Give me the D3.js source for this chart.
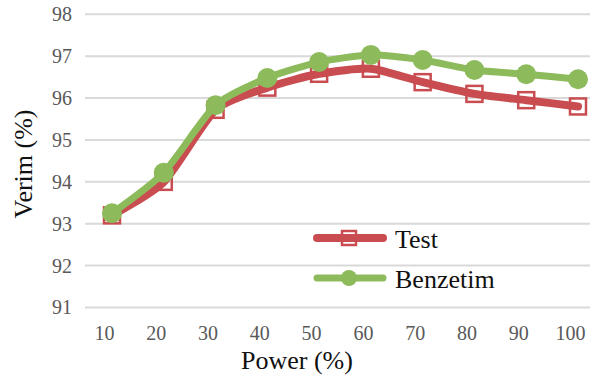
<!DOCTYPE html>
<html>
<head>
<meta charset="utf-8">
<script src="https://cdn.jsdelivr.net/npm/d3@7"></script>
<style>
  body { margin: 0; background: #fff; }
  svg text { font-family: 'Liberation Serif', serif !important; }
</style>
</head>
<body>
<div id="chart"></div>
<script>
var powers = [10, 20, 30, 40, 50, 60, 70, 80, 90, 100];
var testVals = [93.2, 94.0, 95.72, 96.25, 96.58, 96.7, 96.38, 96.1, 95.95, 95.8];
var simVals = [93.25, 94.22, 95.83, 96.48, 96.86, 97.03, 96.91, 96.67, 96.57, 96.45];
var yTicks = [91, 92, 93, 94, 95, 96, 97, 98];
var seriesNames = ["Test", "Benzetim"];

var width = 594, height = 377;
var red = "#c94c50", green = "#8dbb5c";

var svg = d3.select("#chart")
    .append("svg")
        .attr("width", width)
        .attr("height", height);

var x = d3.scaleLinear()
    .domain([10, 100])
    .range([112, 578]);

var y = d3.scaleLinear()
    .domain([91, 98])
    .range([307.5, 14.3]);

// grid lines
svg.append("g")
    .selectAll("line")
    .data(yTicks)
    .enter().append("line")
        .attr("x1", 85)
        .attr("x2", 590)
        .attr("y1", function(d) { return y(d); })
        .attr("y2", function(d) { return y(d); })
        .style("stroke", "#d9d9d9")
        .style("stroke-width", 2);

// y axis labels
var yAxis = svg.append("g")
    .attr("transform", "translate(85,0)")
    .call(d3.axisLeft(y).tickValues(yTicks).tickFormat(d3.format("d")).tickSize(0).tickPadding(13));
yAxis.attr("font-family", null).attr("font-size", null);
yAxis.select(".domain").remove();
yAxis.selectAll("text")
    .style("font-size", "20px")
    .attr("fill", "#595959");

// x axis labels (sit a little left of the points, as in the original)
var xAxis = svg.append("g")
    .attr("transform", "translate(-8,318)")
    .call(d3.axisBottom(x).tickValues(powers).tickFormat(d3.format("d")).tickSize(0).tickPadding(8));
xAxis.attr("font-family", null).attr("font-size", null);
xAxis.select(".domain").remove();
xAxis.selectAll("text")
    .style("font-size", "20px")
    .attr("fill", "#595959");

var line = d3.line()
    .x(function(d, i) { return x(powers[i]); })
    .y(function(d) { return y(d); })
    .curve(d3.curveCardinal.tension(0.35));

// Test series
svg.append("path")
    .datum(testVals)
    .attr("d", line)
    .style("fill", "none")
    .style("stroke", red)
    .style("stroke-width", 8)
    .style("stroke-linecap", "round")
    .style("stroke-linejoin", "round");

svg.selectAll(".sq")
    .data(testVals)
    .enter().append("rect")
        .attr("class", "sq")
        .attr("x", function(d, i) { return x(powers[i]) - 8; })
        .attr("y", function(d) { return y(d) - 8; })
        .attr("width", 16)
        .attr("height", 16)
        .style("fill", "none")
        .style("stroke", red)
        .style("stroke-width", 2.5);

// Benzetim series
svg.append("path")
    .datum(simVals)
    .attr("d", line)
    .style("fill", "none")
    .style("stroke", green)
    .style("stroke-width", 7)
    .style("stroke-linecap", "round")
    .style("stroke-linejoin", "round");

svg.selectAll(".dot")
    .data(simVals)
    .enter().append("circle")
        .attr("class", "dot")
        .attr("cx", function(d, i) { return x(powers[i]); })
        .attr("cy", function(d) { return y(d); })
        .attr("r", 10)
        .style("fill", green);

// legend
var legend = svg.selectAll(".legend")
    .data(seriesNames)
    .enter().append("g")
        .attr("class", "legend")
        .attr("transform", function(d, i) { return "translate(0," + (238 + i * 40) + ")"; });

legend.append("line")
    .attr("x1", 317)
    .attr("x2", 383)
    .style("stroke", function(d, i) { return i === 0 ? red : green; })
    .style("stroke-width", function(d, i) { return i === 0 ? 8 : 7; })
    .style("stroke-linecap", "round");

legend.filter(function(d, i) { return i === 0; })
    .append("rect")
        .attr("x", 342)
        .attr("y", -7)
        .attr("width", 14)
        .attr("height", 14)
        .style("fill", "none")
        .style("stroke", red)
        .style("stroke-width", 2.5);

legend.filter(function(d, i) { return i === 1; })
    .append("circle")
        .attr("cx", 349)
        .attr("r", 8)
        .style("fill", green);

legend.append("text")
    .attr("x", 395)
    .attr("y", 10)
    .style("font-size", "26px")
    .style("fill", "#111")
    .text(function(d) { return d; });

// axis titles
svg.append("text")
    .attr("x", 297)
    .attr("y", 369)
    .attr("text-anchor", "middle")
    .style("font-size", "26px")
    .style("fill", "#111")
    .text("Power (%)");

svg.append("text")
    .attr("transform", "translate(32,164) rotate(-90)")
    .attr("text-anchor", "middle")
    .style("font-size", "26px")
    .style("fill", "#111")
    .text("Verim (%)");
</script>
</body>
</html>
